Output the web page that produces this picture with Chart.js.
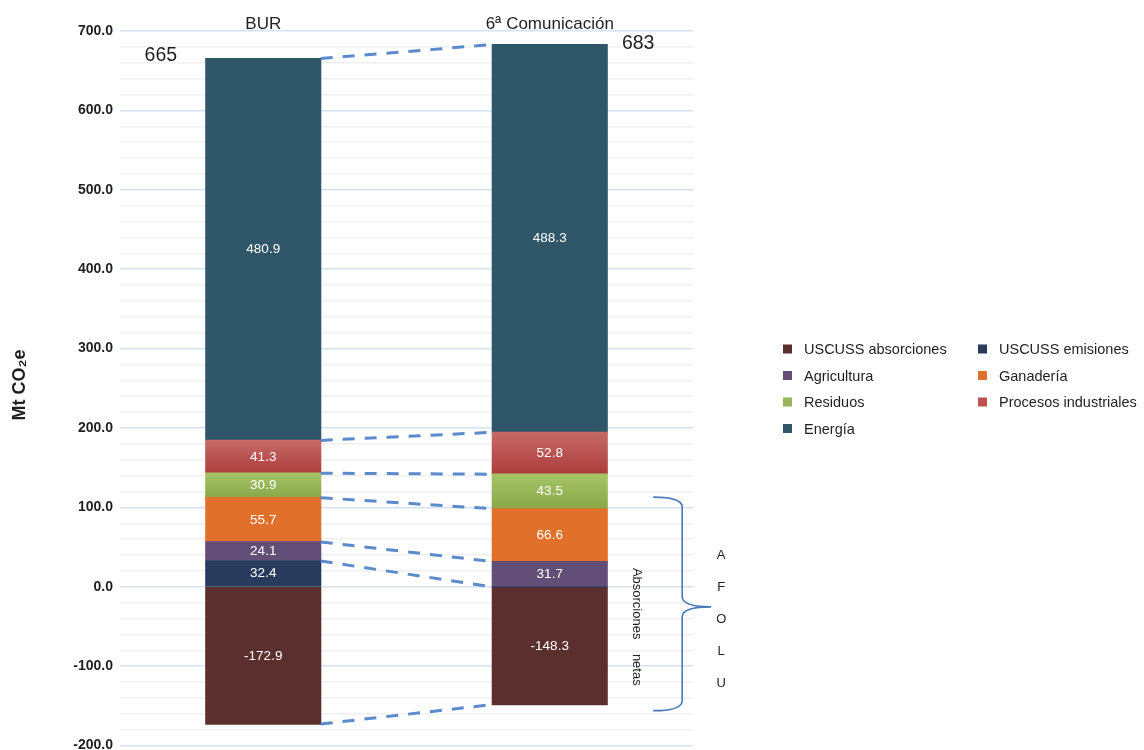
<!DOCTYPE html>
<html>
<head>
<meta charset="utf-8">
<script src="https://cdn.jsdelivr.net/npm/chart.js@4.4.7/dist/chart.umd.min.js"></script>
<style>
  html, body { margin: 0; padding: 0; background: #fff; overflow: hidden; }
  #wrap { position: relative; width: 1144px; height: 761px; }
</style>
</head>
<body>
<div id="wrap"><canvas id="chart"></canvas></div>
<script>
// Data (Mt CO2e)
const categories = ['BUR', '6ª Comunicación'];
const uscussEmisiones = [32.4, 0];
const agricultura = [24.1, 31.7];
const ganaderia = [55.7, 66.6];
const residuos = [30.9, 43.5];
const procesos = [41.3, 52.8];
const energia = [480.9, 488.3];
const uscussAbsorciones = [-172.9, -148.3];

const yMin = -200, yMax = 700, yStep = 20, yLabelStep = 100;
const afoluLetters = ['A', 'F', 'O', 'L', 'U'];

const SANS = "'Liberation Sans', Arial, sans-serif";
const TXT = '#1f1f1f';

// top & bottom colors for the two shaded segments
const shade = {
    procesos: ['#c66a67', '#ac3d3c'],
    residuos: ['#a6c466', '#88a849']
};

// value range of a stacked segment, so the gradient fits the bar
function segRange(chart, di, i) {
    const sets = chart.data.datasets;
    const v = sets[di].data[i];
    let start = 0;
    for (let k = 0; k < di; k++) {
        const w = sets[k].data[i];
        if ((w >= 0) === (v >= 0)) start += w;
    }
    return [start, start + v];
}

function gradient(pair) {
    return (c) => {
        const chart = c.chart;
        const y = chart.scales.y;
        if (!y || c.dataIndex === undefined || c.type !== 'data') return pair[1];
        const [a, b] = segRange(chart, c.datasetIndex, c.dataIndex);
        const top = y.getPixelForValue(Math.max(a, b));
        const bot = y.getPixelForValue(Math.min(a, b));
        if (!isFinite(top) || !isFinite(bot) || top === bot) return pair[1];
        const g = chart.ctx.createLinearGradient(0, top, 0, bot);
        g.addColorStop(0, pair[0]);
        g.addColorStop(1, pair[1]);
        return g;
    };
}

const datasets = [
    { label: 'USCUSS emisiones', data: uscussEmisiones, backgroundColor: '#283b5c', legendColor: '#283b5c' },
    { label: 'Agricultura', data: agricultura, backgroundColor: '#634e78', legendColor: '#634e78' },
    { label: 'Ganadería', data: ganaderia, backgroundColor: '#e0702a', legendColor: '#e0702a' },
    { label: 'Residuos', data: residuos, backgroundColor: gradient(shade.residuos), legendColor: '#98b65a' },
    { label: 'Procesos industriales', data: procesos, backgroundColor: gradient(shade.procesos), legendColor: '#bd5250' },
    { label: 'Energía', data: energia, backgroundColor: '#2f5769', legendColor: '#2f5769' },
    { label: 'USCUSS absorciones', data: uscussAbsorciones, backgroundColor: '#5b2f2d', legendColor: '#5b2f2d' }
];

const legendOrder = ['USCUSS absorciones', 'USCUSS emisiones', 'Agricultura', 'Ganadería',
    'Residuos', 'Procesos industriales', 'Energía'];

// dashed connectors between the bars
const connectors = {
    id: 'connectors',
    afterDatasetsDraw(chart) {
        const ctx = chart.ctx;
        ctx.save();
        ctx.strokeStyle = '#5b8bcb';
        ctx.lineWidth = 3;
        ctx.setLineDash([12, 10]);
        chart.data.datasets.forEach((ds, di) => {
            const bars = chart.getDatasetMeta(di).data;
            if (bars.length < 2) return;
            const a = bars[0], b = bars[1];
            ctx.beginPath();
            ctx.moveTo(a.x + a.width / 2, a.y);
            ctx.lineTo(b.x - b.width / 2, b.y);
            ctx.stroke();
        });
        ctx.restore();
    }
};

// value inside each segment + totals beside the bars
const valueLabels = {
    id: 'valueLabels',
    afterDatasetsDraw(chart) {
        const ctx = chart.ctx;
        ctx.save();
        ctx.font = '13.5px ' + SANS;
        ctx.fillStyle = '#ffffff';
        ctx.textAlign = 'center';
        ctx.textBaseline = 'middle';
        chart.data.datasets.forEach((ds, di) => {
            chart.getDatasetMeta(di).data.forEach((el, i) => {
                const v = ds.data[i];
                if (!v) return;
                ctx.fillText(v.toFixed(1), el.x, (el.y + el.base) / 2);
            });
        });

        // totals of the emitting sectors
        const top = chart.getDatasetMeta(5).data;
        ctx.font = '19.5px ' + SANS;
        ctx.fillStyle = TXT;
        categories.forEach((c, i) => {
            let sum = 0;
            chart.data.datasets.forEach(ds => { if (ds.data[i] > 0) sum += ds.data[i]; });
            const el = top[i];
            if (i === 0) ctx.fillText(Math.round(sum), el.x - el.width / 2 - 45, el.y - 3);
            else ctx.fillText(Math.round(sum), el.x + el.width / 2 + 31, el.y - 1);
        });
        ctx.restore();
    }
};

// axis title, AFOLU brace, legend
const extras = {
    id: 'extras',
    afterDraw(chart) {
        const ctx = chart.ctx;
        const y = chart.scales.y;
        const area = chart.chartArea;
        ctx.save();

        // y axis title
        ctx.fillStyle = TXT;
        ctx.font = 'bold 18px ' + SANS;
        ctx.textAlign = 'center';
        ctx.textBaseline = 'middle';
        ctx.translate(20, 385);
        ctx.rotate(-Math.PI / 2);
        ctx.fillText('Mt CO₂e', 0, 0);
        ctx.setTransform(1, 0, 0, 1, 0, 0);

        // AFOLU brace next to the second bar
        const bar = chart.getDatasetMeta(5).data[1];
        const bx = bar.x + bar.width / 2;
        const y0 = y.getPixelForValue(0);
        const yTop = y.getPixelForValue(113);
        const yBot = y.getPixelForValue(-156);
        const yMid = (yTop + yBot) / 2 + 3;
        const x1 = bx + 46, x2 = bx + 75, x3 = bx + 104;
        ctx.strokeStyle = '#4a78b8';
        ctx.lineWidth = 1.6;
        ctx.beginPath();
        ctx.moveTo(x1, yTop);
        ctx.quadraticCurveTo(x2, yTop, x2, yTop + 10);
        ctx.lineTo(x2, yMid - 10);
        ctx.quadraticCurveTo(x2, yMid, x3, yMid);
        ctx.quadraticCurveTo(x2, yMid, x2, yMid + 10);
        ctx.lineTo(x2, yBot - 10);
        ctx.quadraticCurveTo(x2, yBot, x1, yBot);
        ctx.stroke();

        ctx.font = '13px ' + SANS;
        ctx.fillStyle = TXT;
        afoluLetters.forEach((l, k) => ctx.fillText(l, bx + 114, y0 - 31 + k * 32));

        // rotated note
        ctx.translate(bx + 29, y0 + 40);
        ctx.rotate(Math.PI / 2);
        ctx.fillText('Absorciones    netas', 0, 0);
        ctx.setTransform(1, 0, 0, 1, 0, 0);

        // legend, two columns
        ctx.font = '14.5px ' + SANS;
        ctx.textAlign = 'left';
        const lx = [area.right + 90, area.right + 285];
        const ly = 349;
        legendOrder.forEach((name, k) => {
            const ds = chart.data.datasets.find(d => d.label === name);
            const cx = lx[k % 2];
            const cy = ly + Math.floor(k / 2) * 26.5;
            ctx.fillStyle = ds.legendColor;
            ctx.fillRect(cx, cy - 4.5, 9, 9);
            ctx.fillStyle = TXT;
            ctx.fillText(name, cx + 21, cy + 1);
        });
        ctx.restore();
    }
};

new Chart(document.getElementById('chart'), {
    type: 'bar',
    data: { labels: categories, datasets },
    options: {
        responsive: true,
        maintainAspectRatio: false,
        animation: false,
        layout: { padding: { left: 0, right: 451, top: 2, bottom: 0 } },
        plugins: { legend: { display: false }, tooltip: { enabled: false } },
        datasets: { bar: { categoryPercentage: 1, barPercentage: 0.401, borderWidth: 0, inflateAmount: 0.6 } },
        scales: {
            x: {
                stacked: true,
                position: 'top',
                grid: { display: false },
                border: { display: false },
                ticks: { color: TXT, font: { family: SANS, size: 17 }, padding: -12 },
                afterFit: (s) => { s.height = 29; }
            },
            y: {
                stacked: true,
                min: yMin,
                max: yMax,
                border: { display: false },
                grid: {
                    drawTicks: false,
                    lineWidth: 1.5,
                    color: (c) => (c.tick && Math.abs(c.tick.value % yLabelStep) < 1e-6) ? '#d5e2f1' : '#f0f0f0'
                },
                ticks: {
                    stepSize: yStep,
                    autoSkip: false,
                    padding: 7,
                    color: TXT,
                    font: { family: SANS, size: 14, weight: 'bold' },
                    callback: (v) => (Math.abs(v % yLabelStep) < 1e-6) ? v.toFixed(1) : ''
                },
                afterFit: (s) => { s.width = 120; }
            }
        }
    },
    plugins: [connectors, valueLabels, extras]
});
</script>
</body>
</html>
